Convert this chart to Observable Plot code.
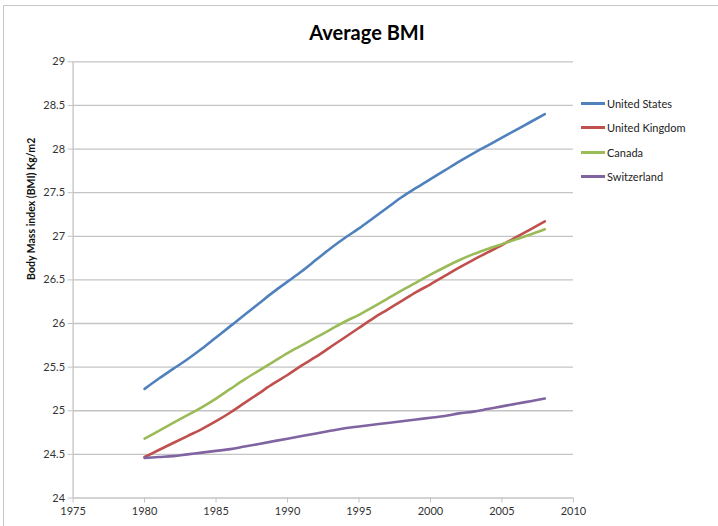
<!DOCTYPE html>
<html><head><meta charset="utf-8">
<script src="https://cdn.jsdelivr.net/npm/d3@7"></script>
<script src="https://cdn.jsdelivr.net/npm/@observablehq/plot@0.6"></script>
<style>
body{margin:0;background:#fff;font-family:Lato,"Open Sans",sans-serif;}
#wrap{position:relative;width:718px;height:526px;overflow:hidden;}
#frame{position:absolute;left:3px;top:5px;width:800px;height:600px;border:1px solid #c8c8c8;pointer-events:none;}
#title{height:50px;width:718px;box-sizing:border-box;padding-left:16px;padding-top:22px;text-align:center;font-weight:bold;font-size:20px;color:#000;line-height:20px;}
#legend{position:absolute;left:581px;top:91px;font-size:11px;color:#222;}
.li{height:24.5px;display:flex;align-items:center;}
.sw{width:24px;height:3px;margin-right:2px;}
</style></head>
<body>
<div id="wrap">
<div id="frame"></div>
<div id="title">Average BMI</div>
<div id="chart"></div>
<div id="legend"></div>
</div>
<script>
const years = d3.range(1980, 2009);
const seriesNames = ["United States", "United Kingdom", "Canada", "Switzerland"];
const seriesColors = ["#4F81BD", "#C0504D", "#9BBB59", "#8064A2"];
const usValues = [25.25,25.37,25.48,25.59,25.71,25.84,25.97,26.10,26.23,26.36,26.48,26.60,26.73,26.86,26.98,27.09,27.21,27.33,27.45,27.555,27.655,27.755,27.855,27.95,28.04,28.13,28.22,28.31,28.40];
const ukValues = [24.47,24.55,24.63,24.71,24.79,24.88,24.98,25.09,25.20,25.31,25.41,25.52,25.62,25.73,25.84,25.95,26.06,26.16,26.26,26.36,26.45,26.545,26.64,26.73,26.815,26.90,26.99,27.08,27.17];
const caValues = [24.68,24.77,24.86,24.95,25.04,25.14,25.25,25.36,25.46,25.56,25.66,25.75,25.84,25.93,26.02,26.10,26.19,26.285,26.38,26.47,26.56,26.645,26.725,26.795,26.855,26.91,26.965,27.02,27.08];
const chValues = [24.46,24.47,24.48,24.50,24.52,24.54,24.56,24.59,24.62,24.65,24.68,24.71,24.74,24.77,24.80,24.82,24.84,24.86,24.88,24.90,24.92,24.94,24.97,24.99,25.02,25.05,25.08,25.11,25.14];
const xTicks = [1975,1980,1985,1990,1995,2000,2005,2010];
const yTicks = [24,24.5,25,25.5,26,26.5,27,27.5,28,28.5,29];
const yLabel = "Body Mass index (BMI) Kg/m2";

const allValues = [usValues, ukValues, caValues, chValues];
const rows = [];
seriesNames.forEach((s, i) => years.forEach((y, j) => rows.push({series: s, year: y, value: allValues[i][j]})));

const grid = "#c4c4c4";
const chart = Plot.plot({
  width: 718,
  height: 476,
  marginLeft: 72.6,
  marginRight: 145.1,
  marginTop: 11.3,
  marginBottom: 28.5,
  style: {fontFamily: "Lato, 'Open Sans', sans-serif", fontSize: "11px", color: "#333", background: "transparent"},
  x: {domain: [1975, 2010], ticks: xTicks},
  y: {domain: [24, 29], ticks: yTicks},
  color: {domain: seriesNames, range: seriesColors},
  marks: [
    Plot.gridY(yTicks, {stroke: grid, strokeOpacity: 1, strokeWidth: 1.3}),
    Plot.ruleX([1975], {stroke: grid, strokeWidth: 1.3}),
    Plot.axisY(yTicks, {tickSize: 5, stroke: grid, tickPadding: 3, tickFormat: d => String(d), label: null, fill: "#333"}),
    Plot.axisX(xTicks, {tickSize: 5, stroke: grid, tickPadding: 4, tickFormat: d => String(d), label: null, fill: "#333"}),
    Plot.text([yLabel], {frameAnchor: "left", rotate: -90, dx: -41, fontWeight: "bold", fontSize: 10.5, fill: "#111"}),
    Plot.line(rows, {x: "year", y: "value", z: "series", stroke: "series", strokeWidth: 2.6, curve: "monotone-x"})
  ]
});
document.getElementById("chart").appendChild(chart);

const leg = document.getElementById("legend");
seriesNames.forEach((s, i) => {
  const d = document.createElement("div"); d.className = "li";
  const sw = document.createElement("span"); sw.className = "sw"; sw.style.background = seriesColors[i];
  const t = document.createElement("span"); t.textContent = s;
  d.appendChild(sw); d.appendChild(t); leg.appendChild(d);
});
</script>
</body></html>
